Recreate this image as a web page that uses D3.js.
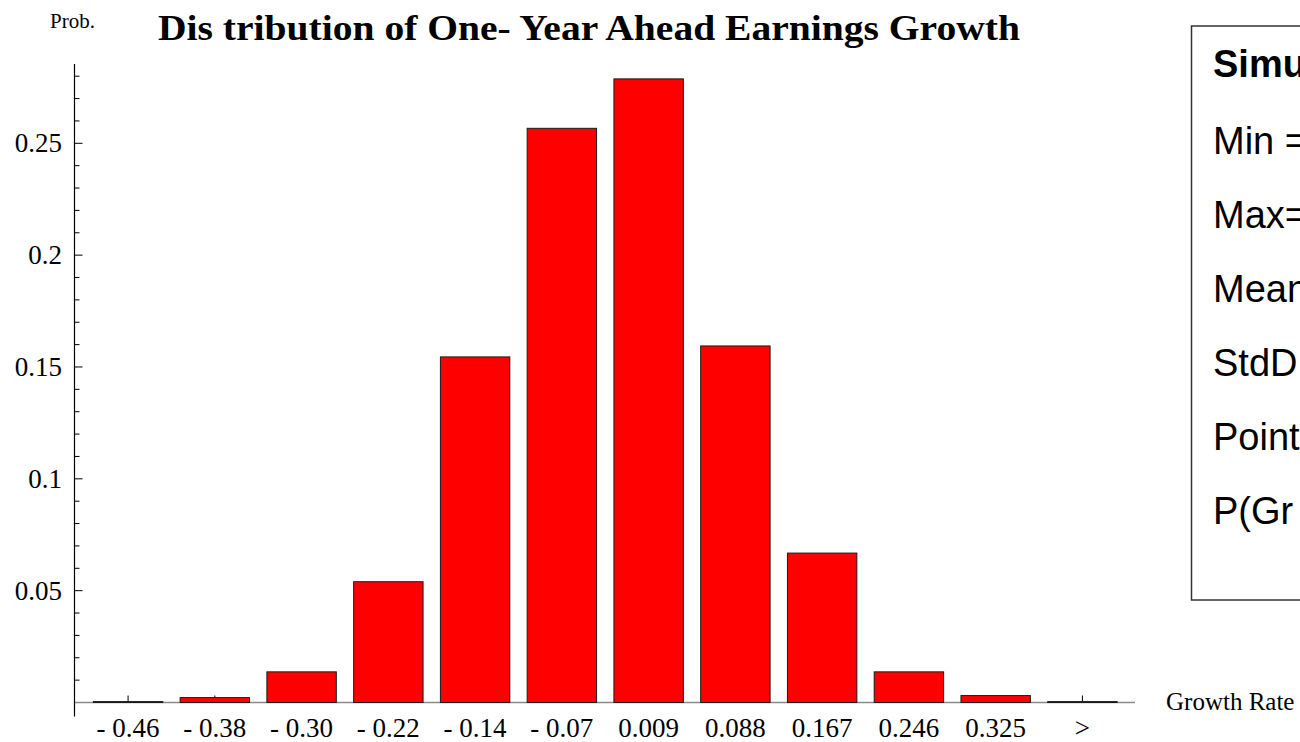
<!DOCTYPE html>
<html>
<head>
<meta charset="utf-8">
<script src="https://cdn.jsdelivr.net/npm/d3@7"></script>
<style>
  html, body { margin: 0; padding: 0; background: #fff; overflow: hidden; }
  svg { display: block; }
</style>
</head>
<body>
<svg id="chart" width="1300" height="742"></svg>
<script>
// ---- data ----
const categories = ["- 0.46", "- 0.38", "- 0.30", "- 0.22", "- 0.14", "- 0.07", "0.009", "0.088", "0.167", "0.246", "0.325", ">"];
const probabilities = [0.0004, 0.0022, 0.0137, 0.0540, 0.1545, 0.2567, 0.2788, 0.1594, 0.0668, 0.0137, 0.0031, 0.0004];
const yTickValues = [0.05, 0.1, 0.15, 0.2, 0.25];
const yTickLabels = ["0.05", "0.1", "0.15", "0.2", "0.25"];
const legendLines = ["Simu", "Min =", "Max=", "Mean", "StdD", "Point", "P(Gr"];
const titleText = "Dis tribution of One- Year Ahead Earnings Growth";
const yAxisLabel = "Prob.";
const xAxisLabel = "Growth Rate";

// ---- layout ----
const svg = d3.select("#chart");
const serif = "'Liberation Serif', 'Times New Roman', serif";
const sans = "'Liberation Sans', Arial, sans-serif";

const axisX = 74.5;
const y = d3.scaleLinear().domain([0, 0.25]).range([702.5, 143.3]);
const yTop = 0.2855;

const x = d3.scaleBand()
  .domain(categories)
  .range([84.7, 1125.8])
  .paddingInner(0.2)
  .paddingOuter(0.1);

// x axis line (grey)
svg.append("line")
  .attr("x1", axisX).attr("x2", 1135)
  .attr("y1", y(0)).attr("y2", y(0))
  .attr("stroke", "#8a8a8a").attr("stroke-width", 1.3);

// x ticks (pointing up)
svg.append("g").selectAll("line").data(categories).join("line")
  .attr("x1", d => x(d) + x.bandwidth() / 2)
  .attr("x2", d => x(d) + x.bandwidth() / 2)
  .attr("y1", y(0)).attr("y2", y(0) - 7)
  .attr("stroke", "#000").attr("stroke-width", 1);

// bars
svg.append("g").selectAll("rect").data(probabilities).join("rect")
  .attr("x", (d, i) => x(categories[i]))
  .attr("width", x.bandwidth())
  .attr("y", d => y(d))
  .attr("height", d => Math.max(0.8, y(0) - y(d)))
  .attr("fill", "#ff0000")
  .attr("stroke", "#1a1a1a")
  .attr("stroke-width", 1);

// y axis line
svg.append("line")
  .attr("x1", axisX).attr("x2", axisX)
  .attr("y1", y(yTop)).attr("y2", 716.5)
  .attr("stroke", "#000").attr("stroke-width", 1.2);

// y ticks: minor every 0.01, major at labels
const minorTicks = d3.range(1, 29).map(i => i / 100).filter(v => Math.abs(v * 20 - Math.round(v * 20)) > 1e-6);
svg.append("g").selectAll("line").data(minorTicks).join("line")
  .attr("x1", axisX).attr("x2", axisX + 5)
  .attr("y1", d => y(d)).attr("y2", d => y(d))
  .attr("stroke", "#000").attr("stroke-width", 1);
svg.append("g").selectAll("line").data(yTickValues).join("line")
  .attr("x1", axisX).attr("x2", axisX + 8)
  .attr("y1", d => y(d)).attr("y2", d => y(d))
  .attr("stroke", "#000").attr("stroke-width", 1);

// y tick labels
svg.append("g").selectAll("text").data(yTickValues).join("text")
  .attr("x", 62)
  .attr("y", d => y(d) + 9)
  .attr("text-anchor", "end")
  .attr("font-family", serif)
  .attr("font-size", 27)
  .attr("fill", "#000")
  .text((d, i) => yTickLabels[i]);

// x tick labels
svg.append("g").selectAll("text").data(categories).join("text")
  .attr("x", d => x(d) + x.bandwidth() / 2)
  .attr("y", 737)
  .attr("text-anchor", "middle")
  .attr("font-family", serif)
  .attr("font-size", 27)
  .attr("fill", "#000")
  .text(d => d);

// axis labels
svg.append("text")
  .attr("x", 50).attr("y", 28)
  .attr("font-family", serif).attr("font-size", 21)
  .attr("fill", "#000")
  .text(yAxisLabel);

svg.append("text")
  .attr("x", 1166).attr("y", 710)
  .attr("font-family", serif).attr("font-size", 25)
  .attr("fill", "#000")
  .text(xAxisLabel);

// title
svg.append("text")
  .attr("x", 158).attr("y", 40)
  .attr("font-family", serif).attr("font-size", 35)
  .attr("font-weight", "bold")
  .attr("textLength", 862)
  .attr("lengthAdjust", "spacingAndGlyphs")
  .attr("fill", "#000")
  .text(titleText);

// legend box (clipped at right edge, as in the reference)
svg.append("rect")
  .attr("x", 1191.5).attr("y", 26)
  .attr("width", 140).attr("height", 574)
  .attr("fill", "none")
  .attr("stroke", "#333").attr("stroke-width", 1.5);

svg.append("g").selectAll("text").data(legendLines).join("text")
  .attr("x", 1213)
  .attr("y", (d, i) => i === 0 ? 77 : 154 + (i - 1) * 74)
  .attr("font-family", sans)
  .attr("font-size", 38)
  .attr("font-weight", (d, i) => i === 0 ? "bold" : "normal")
  .attr("fill", "#000")
  .text(d => d);
</script>
</body>
</html>
